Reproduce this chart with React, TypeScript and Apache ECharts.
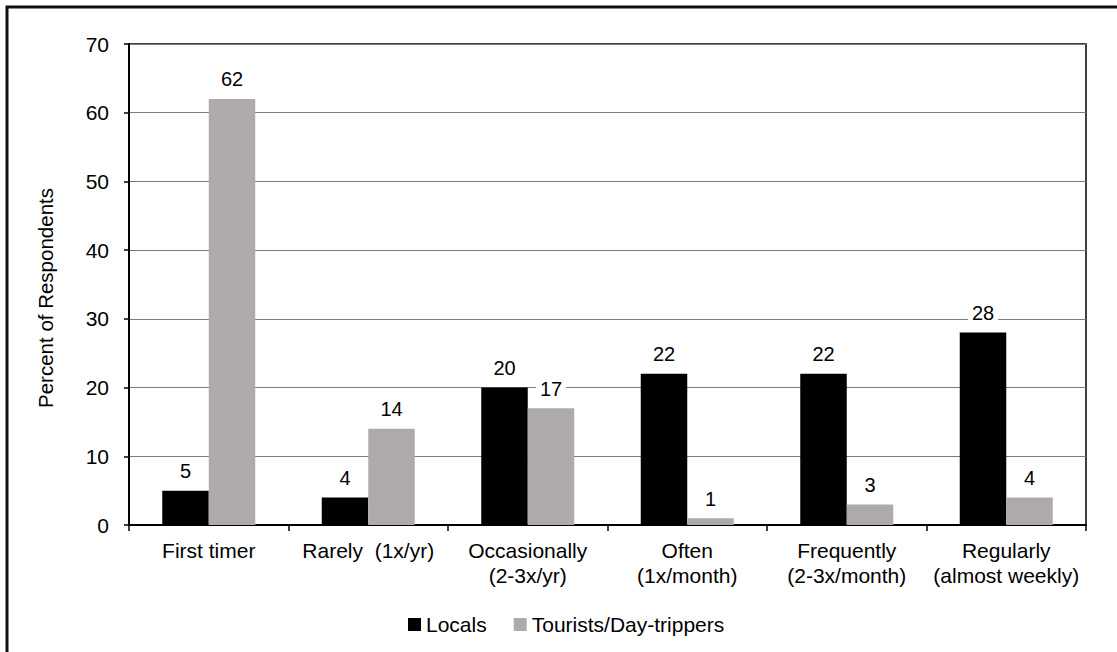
import React, { useEffect, useRef } from "react";
import * as echarts from "echarts";

// Visit frequency categories (x axis)
const categories = [
  "First timer",
  "Rarely  (1x/yr)",
  "Occasionally\n(2-3x/yr)",
  "Often\n(1x/month)",
  "Frequently\n(2-3x/month)",
  "Regularly\n(almost weekly)",
];

// Percent of respondents per group
const locals = [5, 4, 20, 22, 22, 28];
const tourists = [62, 14, 17, 1, 3, 4];

const seriesNames = ["Locals", "Tourists/Day-trippers"];
const yTicks = { min: 0, max: 70, interval: 10 };
const yTitle = "Percent of Respondents";

const FONT = "'Liberation Sans', Arial, sans-serif";

export default function App() {
  const ref = useRef<HTMLDivElement>(null);

  useEffect(() => {
    document.body.style.margin = "0";
    const chart = echarts.init(ref.current!, null, { renderer: "svg" });

    const label = {
      show: true,
      position: "top" as const,
      distance: 10,
      color: "#000",
      fontFamily: FONT,
      fontSize: 20,
      lineHeight: 19,
      backgroundColor: "#fff",
      padding: [0, 4],
    };

    chart.setOption({
      animation: false,
      backgroundColor: "#fff",
      textStyle: { fontFamily: FONT, color: "#000" },
      grid: {
        left: 129,
        top: 44,
        right: 31,
        bottom: 127,
        show: true,
        borderColor: "#000",
        borderWidth: 1.5,
        backgroundColor: "transparent",
      },
      legend: {
        left: 403,
        top: 609,
        itemWidth: 13,
        itemHeight: 13,
        itemGap: 27,
        icon: "rect",
        textStyle: { fontFamily: FONT, fontSize: 21, color: "#000" },
        data: seriesNames,
      },
      xAxis: {
        type: "category",
        data: categories,
        axisLine: { lineStyle: { color: "#000", width: 2 } },
        axisTick: { show: true, length: 6, lineStyle: { color: "#000", width: 1.5 } },
        axisLabel: {
          interval: 0,
          margin: 13,
          fontSize: 21,
          lineHeight: 25,
          color: "#000",
          fontFamily: FONT,
        },
        splitLine: { show: false },
      },
      yAxis: {
        type: "value",
        min: yTicks.min,
        max: yTicks.max,
        interval: yTicks.interval,
        axisLine: { show: true, lineStyle: { color: "#000", width: 2 } },
        axisTick: { show: true, length: 5, lineStyle: { color: "#000", width: 1.5 } },
        axisLabel: { margin: 20, fontSize: 21, color: "#000", fontFamily: FONT },
        splitLine: { show: true, lineStyle: { color: "#7a7a7a", width: 1.2 } },
      },
      graphic: [
        {
          type: "rect",
          shape: { x: 7, y: 7, width: 1200, height: 700 },
          style: { fill: "none", stroke: "#111", lineWidth: 3 },
          silent: true,
        },
        {
          type: "text",
          x: 45,
          y: 298,
          rotation: Math.PI / 2,
          style: {
            text: yTitle,
            fontFamily: FONT,
            fontSize: 20.5,
            fill: "#000",
            align: "center",
            verticalAlign: "middle",
          },
        },
      ],
      series: [
        {
          name: seriesNames[0],
          type: "bar",
          data: locals,
          barWidth: 46.5,
          barGap: "0%",
          itemStyle: { color: "#000000" },
          label,
        },
        {
          name: seriesNames[1],
          type: "bar",
          data: tourists,
          barWidth: 46.5,
          barGap: "0%",
          itemStyle: { color: "#aeaaaa" },
          label,
        },
      ],
    });

    return () => chart.dispose();
  }, []);

  return (
    <div
      ref={ref}
      style={{ position: "absolute", left: 0, top: 0, width: 1117, height: 652 }}
    />
  );
}
